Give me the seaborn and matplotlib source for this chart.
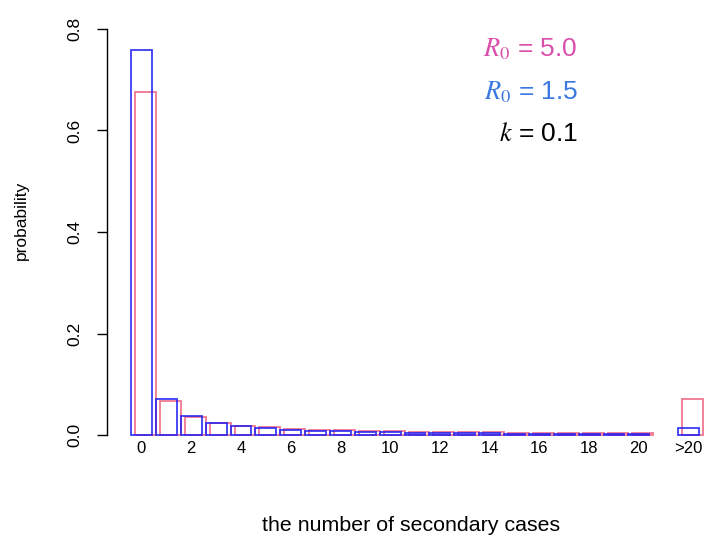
import matplotlib
matplotlib.use("Agg")
import matplotlib.pyplot as plt
import seaborn as sns
import pandas as pd

# ---- data ----
categories = [str(i) for i in range(21)] + [">20"]
positions = list(range(21)) + [22]          # slot 21 left empty, as in the reference
prob_R50 = [0.675, 0.0662, 0.0357, 0.0245, 0.0186, 0.0150, 0.0125, 0.0107,
            0.0093, 0.0082, 0.0073, 0.0066, 0.0060, 0.0054, 0.0050, 0.0046,
            0.0043, 0.0039, 0.0037, 0.0034, 0.0032, 0.0713]
prob_R15 = [0.758, 0.0711, 0.0366, 0.0240, 0.0175, 0.0134, 0.0107, 0.0087,
            0.0073, 0.0061, 0.0052, 0.0045, 0.0039, 0.0034, 0.0030, 0.0026,
            0.0023, 0.0021, 0.0018, 0.0016, 0.0015, 0.0146]
tick_pos = [0, 2, 4, 6, 8, 10, 12, 14, 16, 18, 20, 22]
tick_labels = ["0", "2", "4", "6", "8", "10", "12", "14", "16", "18", "20", ">20"]
yticks = [0.0, 0.2, 0.4, 0.6, 0.8]
ytick_labels = ["0.0", "0.2", "0.4", "0.6", "0.8"]

sns.set_style("ticks")
plt.rcParams["font.family"] = ["Liberation Sans", "DejaVu Sans"]
plt.rcParams["mathtext.fontset"] = "stix"
for key in ["text.color", "axes.labelcolor", "xtick.color", "ytick.color",
            "xtick.labelcolor", "ytick.labelcolor"]:
    plt.rcParams[key] = "black"

fig = plt.figure(figsize=(7.09, 5.38), dpi=100)
ax = fig.add_axes([0.1715, 0.182, 0.8243, 0.7943])

red_col = "#EE5F7E"
blue_col = "#1A1AF5"
offset = 0.16

df_red = pd.DataFrame({"x": [p + offset for p in positions], "y": prob_R50})
df_blue = pd.DataFrame({"x": positions, "y": prob_R15})

sns.barplot(data=df_red, x="x", y="y", native_scale=True, fill=False,
            color=red_col, width=0.84, linewidth=1.3, errorbar=None, ax=ax)
sns.barplot(data=df_blue, x="x", y="y", native_scale=True, fill=False,
            color=blue_col, width=0.84, linewidth=1.3, errorbar=None, ax=ax)
for p in ax.patches:
    p.set_alpha(0.85)

ax.set_xlim(-0.8, 22.7)
ax.set_ylim(-0.01, 0.832)

ax.set_xticks(tick_pos, tick_labels)
ax.tick_params(axis="x", length=0, pad=1, labelsize=12, labelcolor="black")
ax.set_yticks(yticks)
ax.tick_params(axis="y", length=7.2, width=1.0, direction="out",
               color="black", labelleft=False)
# rotated y tick labels (R style), centred on each tick
ytrans = ax.get_yaxis_transform()
for yv, lab in zip(yticks, ytick_labels):
    ax.text(-0.0678, yv, lab, transform=ytrans, rotation=90,
            rotation_mode="default", ha="right", va="center",
            fontsize=12.5, color="black", clip_on=False)

for s in ["top", "right", "bottom"]:
    ax.spines[s].set_visible(False)
ax.spines["left"].set_bounds(0, 0.8)
ax.spines["left"].set_position(("outward", 10.5))
ax.spines["left"].set_color("black")
ax.spines["left"].set_linewidth(1.0)

ax.set_xlabel("the number of secondary cases", fontsize=15.4, color="black")
ax.xaxis.set_label_coords(0.495, -0.178)
ax.set_ylabel("probability", fontsize=12.5, color="black")
ax.yaxis.set_label_coords(-0.158, 0.513)

ax.text(0.781, 0.897, r"$R_0$ = 5.0", transform=ax.transAxes, ha="right",
        va="baseline", fontsize=19, color="#DA4FAE")
ax.text(0.781, 0.798, r"$R_0$ = 1.5", transform=ax.transAxes, ha="right",
        va="baseline", fontsize=19, color="#3B78E0")
ax.text(0.781, 0.701, r"$k$ = 0.1", transform=ax.transAxes, ha="right",
        va="baseline", fontsize=19, color="black")

fig.savefig("out.png", dpi=100)
